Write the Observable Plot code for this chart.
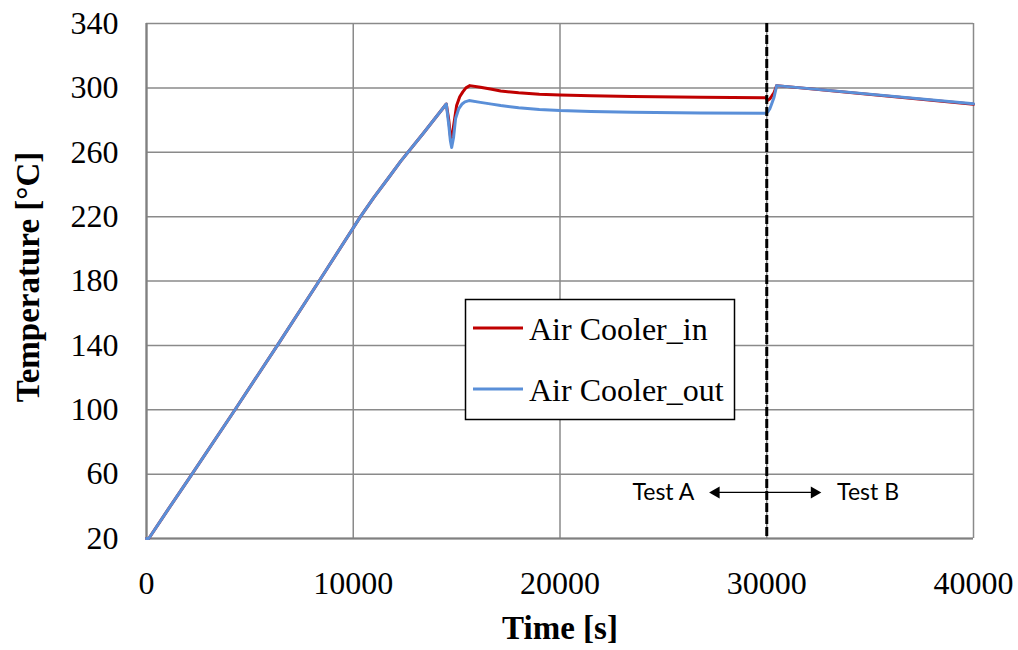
<!DOCTYPE html>
<html>
<head>
<meta charset="utf-8">
<script src="https://cdn.jsdelivr.net/npm/d3@7"></script>
<script src="https://cdn.jsdelivr.net/npm/@observablehq/plot@0.6"></script>
<style>
  html, body { margin: 0; padding: 0; background: #fff; }
  #chart { position: relative; width: 1018px; height: 650px; }
</style>
</head>
<body>
<div id="chart"></div>
<script>
// ---- Data ----
const xTicks = [0, 10000, 20000, 30000, 40000];
const yTicks = [20, 60, 100, 140, 180, 220, 260, 300, 340];

const timeIn = [0, 110, 1000, 2200, 4280, 6330, 8350, 10350, 11000, 11700, 12300, 13400, 14500, 14620, 14700, 14760, 14850, 15000, 15150, 15300, 15450, 15640, 16150, 16700, 17130, 18000, 19000, 20000, 21500, 23500, 26800, 29950, 30050, 30150, 30250, 30350, 30480, 40000];
const tempIn = [20, 20, 37.2, 60, 100, 140, 180, 220, 232, 244, 254.5, 272, 290, 280, 270, 267, 276, 289, 294.5, 297.5, 300, 301.4, 300.4, 299.1, 298, 296.9, 296.1, 295.6, 295.1, 294.7, 294.1, 293.8, 292.2, 293.2, 295, 297, 301.4, 289.8];

const timeOut = [0, 110, 1000, 2200, 4280, 6330, 8350, 10350, 11000, 11700, 12300, 13400, 14500, 14620, 14700, 14760, 14850, 14950, 15100, 15250, 15400, 15600, 16150, 16700, 17130, 18000, 19000, 20000, 21500, 23500, 26800, 29950, 30050, 30150, 30250, 30350, 30480, 40000];
const tempOut = [20, 20, 37.2, 60, 100, 140, 180, 220, 232, 244, 254.5, 272, 290, 277, 267, 263, 269, 281, 287, 289.8, 291.3, 292.1, 291, 289.9, 289, 287.6, 286.6, 285.9, 285.3, 284.8, 284.4, 284.2, 285, 287, 290.5, 294, 301.4, 290.1];

const seriesNames = ["Air Cooler_in", "Air Cooler_out"];
const seriesColors = ["#C00000", "#5A8FD8"];

const dividerTime = 30000;
const labelTexts = ["Test A", "Test B"];
const labelTimes = [25000, 34900];
const labelTemp = 48.6;
const arrowEnds = [27550, 32300];

// ---- Build tables ----
const dataIn = timeIn.map((t, i) => ({t, v: tempIn[i]}));
const dataOut = timeOut.map((t, i) => ({t, v: tempOut[i]}));
const labels = labelTexts.map((s, i) => ({s, t: labelTimes[i], v: labelTemp}));
const arrows = arrowEnds.map(e => ({x1: dividerTime, x2: e, v: labelTemp, dir: e < dividerTime ? -1 : 1}));

const serif = "'Liberation Serif', 'Times New Roman', serif";

const chart = Plot.plot({
  width: 1018,
  height: 650,
  marginLeft: 146,
  marginRight: 45,
  marginTop: 23,
  marginBottom: 112,
  style: {fontFamily: serif, fontSize: "32px", color: "#000", background: "#fff", overflow: "visible"},
  x: {domain: [0, 40000]},
  y: {domain: [20, 340]},
  marks: [
    Plot.ruleY(yTicks, {stroke: "#8a8a8a", strokeWidth: 1.5}),
    Plot.ruleX(xTicks, {stroke: "#8a8a8a", strokeWidth: 1.5}),
    Plot.ruleX([0], {stroke: "#808080", strokeWidth: 2.2}),
    Plot.ruleY([20], {stroke: "#808080", strokeWidth: 2.2}),
    Plot.axisY({ticks: yTicks, tickSize: 0, tickPadding: 28, tickFormat: d => String(d), label: null, fontSize: 32, fontFamily: serif}),
    Plot.axisX({ticks: xTicks, tickSize: 0, tickPadding: 33, tickFormat: d => String(d), label: null, fontSize: 32, fontFamily: serif}),
    Plot.text(["Temperature [°C]"], {frameAnchor: "left", textAnchor: "middle", rotate: -90, dx: -118, dy: -4, fontWeight: "bold", fontSize: 33, fontFamily: serif}),
    Plot.text(["Time [s]"], {frameAnchor: "bottom", textAnchor: "middle", dy: 100, fontWeight: "bold", fontSize: 33, fontFamily: serif}),
    Plot.line(dataIn, {x: "t", y: "v", stroke: seriesColors[0], strokeWidth: 3}),
    Plot.line(dataOut, {x: "t", y: "v", stroke: seriesColors[1], strokeWidth: 3}),
    Plot.ruleX([dividerTime], {stroke: "#000", strokeWidth: 3, strokeDasharray: "9,3"}),
    Plot.link(arrows, {x1: "x1", x2: "x2", y1: "v", y2: "v", stroke: "#000", strokeWidth: 1.3}),
    Plot.dot(arrows, {x: "x2", y: "v", symbol: "triangle", r: 4.5, fill: "#000", stroke: null, rotate: d => d.dir * 90}),
    Plot.text(labels, {x: "t", y: "v", text: "s", fontFamily: "Lato, 'Open Sans', sans-serif", fontSize: 23, textAnchor: "middle"})
  ]
});

document.getElementById("chart").appendChild(chart);

// ---- Legend (inside the plot area, as in the reference) ----
const svg = d3.select(chart);
const lg = svg.append("g").attr("class", "legend");
lg.append("rect").attr("x", 465.5).attr("y", 299.5).attr("width", 269).attr("height", 120)
  .style("fill", "#ffffff").style("stroke", "#000").style("stroke-width", "1.5px");
const rowsY = [328, 389];
seriesNames.forEach((name, i) => {
  lg.append("line").attr("x1", 473).attr("x2", 523).attr("y1", rowsY[i]).attr("y2", rowsY[i])
    .style("stroke", seriesColors[i]).style("stroke-width", "3px");
  lg.append("text").attr("x", 529).attr("y", rowsY[i] + 12)
    .style("font-family", serif).style("font-size", "32px").style("fill", "#000")
    .style("text-anchor", "start").text(name);
});
</script>
</body>
</html>
